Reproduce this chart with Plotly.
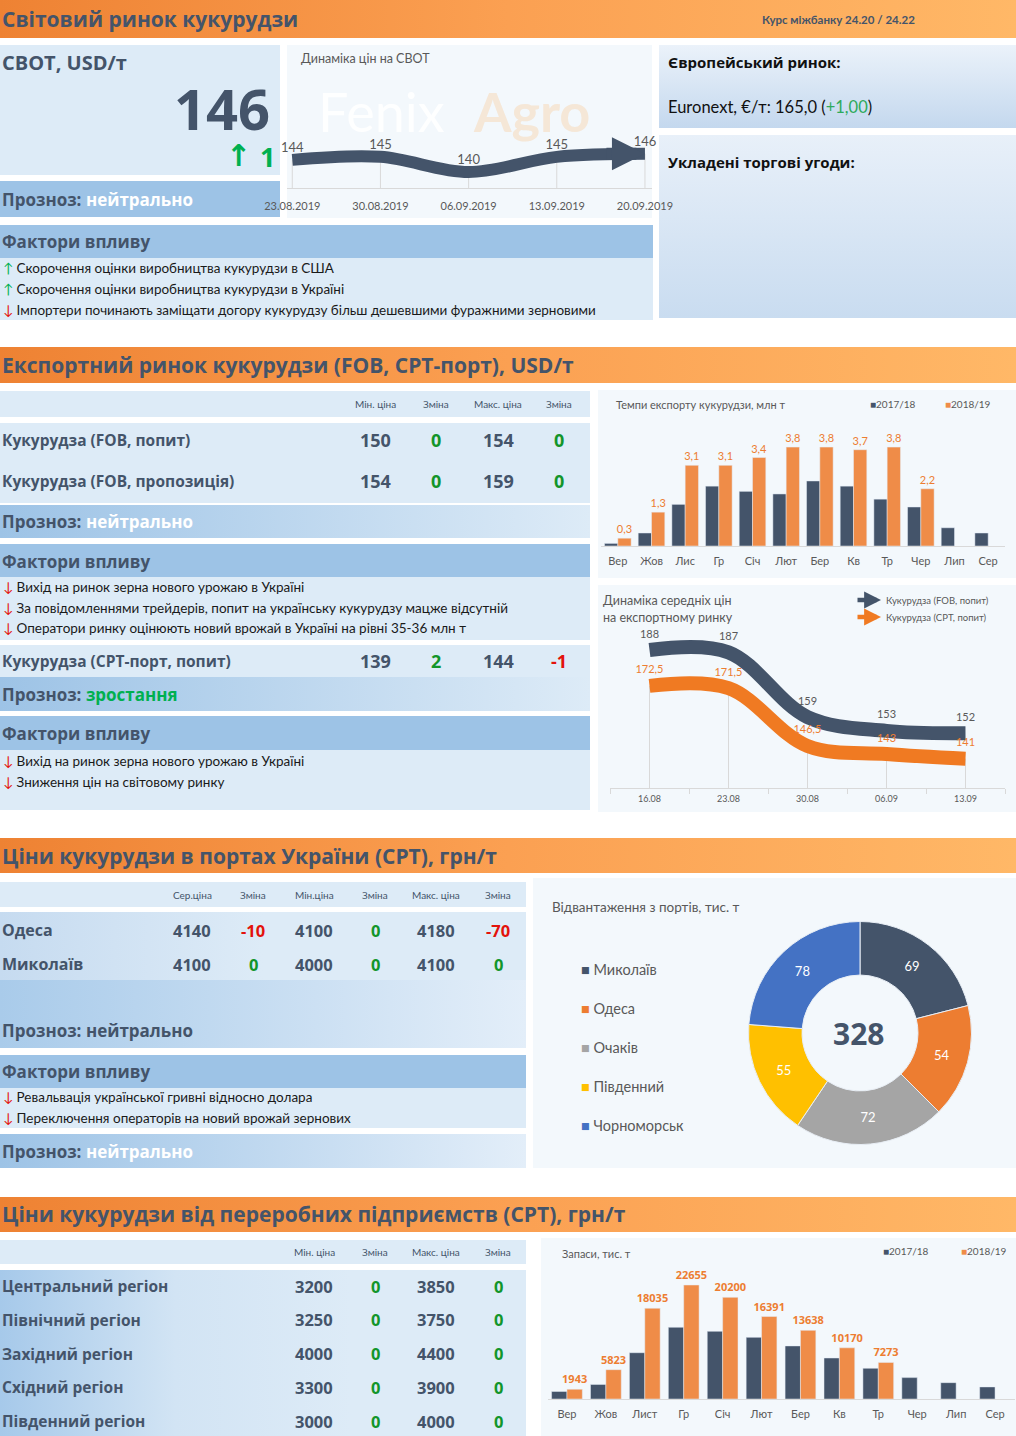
import plotly.graph_objects as go

W, H = 1016, 1436

# ======================= DATA =======================
fx_text = "Курс міжбанку 24.20 / 24.22"
cbot_price = 146
cbot_change = 1
cbot_dates = ["23.08.2019", "30.08.2019", "06.09.2019", "13.09.2019", "20.09.2019"]
cbot_prices = [144, 145, 140, 145, 146]
euronext_price = "165,0"
euronext_change = "+1,00"
world_forecast = "нейтрально"
world_factors = [
    ("up", "Скорочення оцінки виробництва кукурудзи в США"),
    ("up", "Скорочення оцінки виробництва кукурудзи в Україні"),
    ("down", "Імпортери починають заміщати догору кукурудзу більш дешевшими фуражними зерновими"),
]

export_cols = ["Мін. ціна", "Зміна", "Макс. ціна", "Зміна"]
export_rows = ["Кукурудза (FOB, попит)", "Кукурудза (FOB, пропозиція)"]
export_min = [150, 154]
export_min_chg = [0, 0]
export_max = [154, 159]
export_max_chg = [0, 0]
export_forecast = "нейтрально"
export_factors = [
    ("down", "Вихід на ринок зерна нового урожаю в Україні"),
    ("down", "За повідомленнями трейдерів, попит на українську кукурудзу мацже відсутній"),
    ("down", "Оператори ринку оцінюють новий врожай в Україні на рівні 35-36 млн т"),
]
cpt_row = "Кукурудза (СРТ-порт, попит)"
cpt_values = [139, 2, 144, -1]
cpt_forecast = "зростання"
cpt_factors = [
    ("down", "Вихід на ринок зерна нового урожаю в Україні"),
    ("down", "Зниження цін на світовому ринку"),
]

exp_months = ["Вер", "Жов", "Лис", "Гр", "Січ", "Лют", "Бер", "Кв", "Тр", "Чер", "Лип", "Сер"]
exp_1718 = [0.1, 0.5, 1.6, 2.3, 2.1, 2.0, 2.5, 2.3, 1.8, 1.5, 0.7, 0.5]
exp_1819 = [0.3, 1.3, 3.1, 3.1, 3.4, 3.8, 3.8, 3.7, 3.8, 2.2, None, None]

avg_dates = ["16.08", "23.08", "30.08", "06.09", "13.09"]
fob_demand = [188, 187, 159, 153, 152]
cpt_demand = [172.5, 171.5, 146.5, 143, 141]
avg_series = ["Кукурудза (FOB, попит)", "Кукурудза (СРТ, попит)"]

port_cols = ["Сер.ціна", "Зміна", "Мін.ціна", "Зміна", "Макс. ціна", "Зміна"]
port_names = ["Одеса", "Миколаїв"]
port_avg = [4140, 4100]
port_avg_chg = [-10, 0]
port_min = [4100, 4000]
port_min_chg = [0, 0]
port_max = [4180, 4100]
port_max_chg = [-70, 0]
port_forecast_1 = "нейтрально"
port_factors = [
    ("down", "Ревальвація української гривні відносно долара"),
    ("down", "Переключення операторів на новий врожай зернових"),
]
port_forecast_2 = "нейтрально"

ship_ports = ["Миколаїв", "Одеса", "Очаків", "Південний", "Чорноморськ"]
ship_values = [69, 54, 72, 55, 78]

proc_cols = ["Мін. ціна", "Зміна", "Макс. ціна", "Зміна"]
regions = ["Центральний регіон", "Північний регіон", "Західний регіон", "Східний регіон", "Південний регіон"]
reg_min = [3200, 3250, 4000, 3300, 3000]
reg_min_chg = [0, 0, 0, 0, 0]
reg_max = [3850, 3750, 4400, 3900, 4000]
reg_max_chg = [0, 0, 0, 0, 0]

stk_months = ["Вер", "Жов", "Лист", "Гр", "Січ", "Лют", "Бер", "Кв", "Тр", "Чер", "Лип", "Сер"]
stk_1718 = [1500, 2900, 9200, 14250, 13450, 12250, 10550, 8150, 6100, 4250, 3250, 2400]
stk_1819 = [1943, 5823, 18035, 22655, 20200, 16391, 13638, 10170, 7273, None, None, None]

# ======================= STYLE =======================
HEAD = "Open Sans"
BODY = "Lato"
DARK = "#44546A"
GRAY = "#595959"
LIGHT = "#DDEBF7"
MID = "#9DC3E6"
CHART_BG = "#F3F8FC"
ORANGE = "#ED7D31"
BAR_OR = "#EF8C48"
GREEN = "#00B050"
VGREEN = "#12952A"
RED = "#E3120B"
ORANGE_BAND = ["#EE8233", "#FBA052", "#FFB867"]

fig = go.Figure()
ann = []


def box(x0, y0, x1, y1, color=None, grad=None, vertical=False):
    tr = go.Scatter(x=[x0, x1, x1, x0, x0], y=[y0, y0, y1, y1, y0], mode="lines",
                    line=dict(width=0), fill="toself", hoverinfo="skip",
                    showlegend=False, xaxis="x", yaxis="y")
    if grad:
        n = len(grad) - 1
        cs = [[i / n, c] for i, c in enumerate(grad)]
        if vertical:
            tr.update(fillgradient=dict(type="vertical", colorscale=cs, start=y0, stop=y1))
        else:
            tr.update(fillgradient=dict(type="horizontal", colorscale=cs, start=x0, stop=x1))
    else:
        tr.update(fillcolor=color)
    fig.add_trace(tr)


def text(x, y, s, size, color=DARK, family=HEAD, anchor="left", bold=False):
    if bold:
        s = f"<b>{s}</b>"
    ann.append(dict(x=x, y=y, xref="x", yref="y", text=s, showarrow=False,
                    xanchor=anchor, yanchor="middle",
                    font=dict(size=size, color=color, family=family)))


def chg_col(v):
    return RED if v < 0 else VGREEN


def factor_lines(y0, items, step):
    for i, (kind, s) in enumerate(items):
        arr, c = ("↑", GREEN) if kind == "up" else ("↓", RED)
        text(0.5, y0 + i * step, f"<span style='color:{c}'>{arr}</span> {s}", 13.5, "#1a1a1a", BODY)


def forecast(y, word, word_color):
    text(0, y, f"Прозноз: <span style='color:{word_color}'>{word}</span>", 17, DARK, HEAD, bold=True)


# ======================= BACKGROUND BLOCKS =======================
# Section 1
box(0, 0, W, 38, grad=ORANGE_BAND)
box(0, 45, 280, 175, LIGHT)
box(0, 181, 280, 217, MID)
box(287, 45, 652, 218, CHART_BG)
box(659, 45, W, 128, grad=["#EBF2FA", "#C4D8EE"], vertical=True)
box(659, 135, W, 318, grad=["#E8F0F9", "#C9DCF0"], vertical=True)
box(0, 225, 653, 258, MID)
box(0, 258, 653, 320, LIGHT)

# Section 2
box(0, 347, W, 383, grad=ORANGE_BAND)
box(0, 391, 590, 417, LIGHT)
box(0, 423, 590, 503, LIGHT)
box(0, 505, 590, 538, grad=[MID, LIGHT])
box(0, 544, 590, 577, MID)
box(0, 577, 590, 640, LIGHT)
box(0, 645, 590, 677, LIGHT)
box(0, 677, 590, 711, grad=[MID, LIGHT])
box(0, 716, 590, 750, MID)
box(0, 750, 590, 810, LIGHT)
box(598, 390, W, 578, CHART_BG)
box(598, 585, W, 812, CHART_BG)

# Section 3
box(0, 838, W, 873, grad=ORANGE_BAND)
box(0, 882, 526, 907, LIGHT)
box(0, 912, 526, 980, grad=["#C6DBF0", LIGHT, LIGHT])
box(0, 980, 526, 1048, grad=["#A9CBEA", "#E3EEF9"])
box(0, 1055, 526, 1088, MID)
box(0, 1088, 526, 1128, LIGHT)
box(0, 1134, 526, 1168, grad=[MID, "#E3EEF9"])
box(533, 878, W, 1168, CHART_BG)

# Section 4
box(0, 1197, W, 1232, grad=ORANGE_BAND)
box(0, 1240, 526, 1264, LIGHT)
box(0, 1270, 526, H, grad=["#A6C9EA", "#D2E4F4", LIGHT, LIGHT])
box(541, 1238, W, H, CHART_BG)

# watermark (drawn as page-level text trace so chart labels stay on top)
fig.add_trace(go.Scatter(x=[318, 474], y=[118, 118], mode="text", text=["Fenix", "<b>Agro</b>"],
                         textposition="middle right", xaxis="x", yaxis="y", hoverinfo="skip",
                         textfont=dict(size=54, family=BODY,
                                       color=["rgba(255,255,255,0.9)", "rgba(250,185,120,0.28)"])))

# ======================= TEXT: SECTION 1 =======================
text(0, 19, "Світовий ринок кукурудзи", 21, DARK, HEAD, bold=True)
text(838, 19, fx_text, 11.5, DARK, BODY, anchor="center", bold=True)
text(0, 62, "СВОТ, USD/т", 20, DARK, HEAD, bold=True)
text(272, 108, str(cbot_price), 56, DARK, HEAD, anchor="right", bold=True)
arrow_c = "↑" if cbot_change >= 0 else "↓"
text(238, 155, arrow_c, 30, GREEN, "DejaVu Sans", anchor="center", bold=True)
text(267, 156, str(cbot_change), 27, GREEN, HEAD, anchor="center", bold=True)
forecast(199, world_forecast, "white")
text(299, 58, "Динаміка цін на СВОТ", 12.5, GRAY, BODY)
text(666, 62, "Європейський ринок:", 15, "#111111", HEAD, bold=True)
text(666, 107, f"Euronext, €/т: {euronext_price} (<span style='color:#2EAA5C'>{euronext_change}</span>)",
     16.5, "#111111", BODY)
text(666, 162, "Укладені торгові угоди:", 15, "#111111", HEAD, bold=True)
text(0, 241, "Фактори впливу", 17, DARK, HEAD, bold=True)
factor_lines(268, world_factors, 21)

# ======================= TEXT: SECTION 2 =======================
text(0, 365, "Експортний ринок кукурудзи (FOB, CPT-порт), USD/т", 21, DARK, HEAD, bold=True)
exp_cx = [375, 436, 498, 559]
for cx, c in zip(exp_cx, export_cols):
    text(cx, 404, c, 10, DARK, BODY, anchor="center")
for i, name in enumerate(export_rows):
    y = 440 + i * 41
    text(0, y, name, 15.5, DARK, HEAD, bold=True)
    vals = [export_min[i], export_min_chg[i], export_max[i], export_max_chg[i]]
    cols = [DARK, chg_col(export_min_chg[i]), DARK, chg_col(export_max_chg[i])]
    for cx, v, c in zip(exp_cx, vals, cols):
        text(cx, y, str(v), 18, c, HEAD, anchor="center", bold=True)
forecast(521, export_forecast, "white")
text(0, 561, "Фактори впливу", 17, DARK, HEAD, bold=True)
factor_lines(587, export_factors, 20.5)
text(0, 661, cpt_row, 15.5, DARK, HEAD, bold=True)
cpt_cols = [DARK, chg_col(cpt_values[1]), DARK, chg_col(cpt_values[3])]
for cx, v, c in zip(exp_cx, cpt_values, cpt_cols):
    text(cx, 661, str(v), 18, c, HEAD, anchor="center", bold=True)
forecast(694, cpt_forecast, GREEN)
text(0, 733, "Фактори впливу", 17, DARK, HEAD, bold=True)
factor_lines(761, cpt_factors, 20.5)

# chart titles / legends (section 2)
text(614, 404, "Темпи експорту кукурудзи, млн т", 11, GRAY, BODY)
text(868, 404, f"<span style='color:{DARK}'>■</span>2017/18", 10, GRAY, BODY)
text(943, 404, f"<span style='color:{BAR_OR}'>■</span>2018/19", 10, GRAY, BODY)
text(601, 600, "Динаміка середніх цін", 12.5, GRAY, BODY)
text(601, 617, "на експортному ринку", 12.5, GRAY, BODY)
for k, (nm, col) in enumerate(zip(avg_series, [DARK, "#F07A22"])):
    yy = 600 + k * 17
    ann.append(dict(x=881, y=yy, xref="x", yref="y", ax=856, ay=yy, axref="x", ayref="y",
                    text="", showarrow=True, arrowhead=2, arrowsize=0.75, arrowwidth=4.5,
                    arrowcolor=col, standoff=0))
    text(884, yy, nm, 9.5, GRAY, BODY)

# ======================= TEXT: SECTION 3 =======================
text(0, 856, "Ціни кукурудзи в портах України (СРТ), грн/т", 21, DARK, HEAD, bold=True)
port_cx = [192, 253, 314, 375, 436, 498]
for cx, c in zip(port_cx, port_cols):
    text(cx, 895, c, 10, DARK, BODY, anchor="center")
for i, name in enumerate(port_names):
    y = 930 + i * 34
    text(0, y, name, 16, DARK, HEAD, bold=True)
    vals = [port_avg[i], port_avg_chg[i], port_min[i], port_min_chg[i], port_max[i], port_max_chg[i]]
    for j, (cx, v) in enumerate(zip(port_cx, vals)):
        c = DARK if j % 2 == 0 else chg_col(v)
        text(cx, y, str(v), 16.5, c, HEAD, anchor="center", bold=True)
forecast(1030, port_forecast_1, DARK)
text(0, 1071, "Фактори впливу", 17, DARK, HEAD, bold=True)
factor_lines(1097, port_factors, 21)
forecast(1151, port_forecast_2, "white")

text(550, 907, "Відвантаження з портів, тис. т", 13.5, GRAY, BODY)
pie_colors = ["#44546A", "#ED7D31", "#A5A5A5", "#FFC000", "#4472C4"]
for k, (p, c) in enumerate(zip(ship_ports, pie_colors)):
    text(579, 969 + k * 39, f"<span style='color:{c}'>■</span> {p}", 14.5, GRAY, BODY)
text(858, 1033, str(sum(ship_values)), 30, DARK, HEAD, anchor="center", bold=True)

# ======================= TEXT: SECTION 4 =======================
text(0, 1214, "Ціни кукурудзи від переробних підприємств (СРТ), грн/т", 21, DARK, HEAD, bold=True)
proc_cx = [314, 375, 436, 498]
for cx, c in zip(proc_cx, proc_cols):
    text(cx, 1252, c, 10, DARK, BODY, anchor="center")
for i, name in enumerate(regions):
    y = 1286 + i * 33.8
    text(0, y, name, 15.5, DARK, HEAD, bold=True)
    vals = [reg_min[i], reg_min_chg[i], reg_max[i], reg_max_chg[i]]
    for j, (cx, v) in enumerate(zip(proc_cx, vals)):
        c = DARK if j % 2 == 0 else chg_col(v)
        text(cx, y, str(v), 16.5, c, HEAD, anchor="center", bold=True)
text(560, 1253, "Запаси, тис. т", 11, GRAY, BODY)
text(881, 1251, f"<span style='color:{DARK}'>■</span>2017/18", 10, GRAY, BODY)
text(959, 1251, f"<span style='color:{BAR_OR}'>■</span>2018/19", 10, GRAY, BODY)

# ======================= CHARTS =======================
def dx(a, b):
    return [a / W, b / W]


def dy(top, bottom):
    return [1 - bottom / H, 1 - top / H]


# --- CBOT line (x2/y2)
cbot_ymin = 134.7
fig.add_trace(go.Scatter(x=cbot_dates, y=cbot_prices, xaxis="x2", yaxis="y2", mode="markers",
                         marker=dict(size=1, color="rgba(0,0,0,0)"), hoverinfo="skip",
                         error_y=dict(type="data", symmetric=False, array=[0] * len(cbot_prices),
                                      arrayminus=[v - cbot_ymin for v in cbot_prices],
                                      color="#D9D9D9", thickness=1, width=0)))
fig.add_trace(go.Scatter(x=cbot_dates, y=cbot_prices, xaxis="x2", yaxis="y2", mode="lines",
                         line=dict(color=DARK, width=12, shape="spline", smoothing=1.0, backoff=26),
                         hoverinfo="skip"))
fig.add_trace(go.Scatter(x=cbot_dates, y=cbot_prices, xaxis="x2", yaxis="y2", mode="markers+text",
                         marker=dict(size=6, color="rgba(0,0,0,0)"), text=[str(v) for v in cbot_prices],
                         textposition="top center", textfont=dict(size=13, color=GRAY, family=BODY),
                         cliponaxis=False, hoverinfo="skip"))
ann.append(dict(x=cbot_dates[-1], y=cbot_prices[-1], xref="x2", yref="y2", ax=-40, ay=0,
                text="", showarrow=True, arrowhead=2, arrowsize=0.55, arrowwidth=12,
                arrowcolor=DARK, standoff=0))

# --- Export bars (x3/y3)
fig.add_trace(go.Bar(x=exp_months, y=exp_1718, xaxis="x3", yaxis="y3", marker_color=DARK,
                     name="2017/18", hoverinfo="skip"))
fig.add_trace(go.Bar(x=exp_months, y=exp_1819, xaxis="x3", yaxis="y3", marker_color=BAR_OR,
                     name="2018/19", hoverinfo="skip",
                     text=[("" if v is None else f"{v:.1f}".replace(".", ",")) for v in exp_1819],
                     textposition="outside", constraintext="none", cliponaxis=False,
                     textfont=dict(size=11, color=ORANGE, family=BODY)))

# --- Average prices (x4/y4)
avg_ymin = 128.3
fig.add_trace(go.Scatter(x=avg_dates, y=cpt_demand, xaxis="x4", yaxis="y4", mode="markers",
                         marker=dict(size=1, color="rgba(0,0,0,0)"), hoverinfo="skip",
                         error_y=dict(type="data", symmetric=False, array=[0] * len(cpt_demand),
                                      arrayminus=[v - avg_ymin for v in cpt_demand],
                                      color="#D9D9D9", thickness=1, width=0)))
for series, col, tcol in [(fob_demand, DARK, GRAY), (cpt_demand, "#F07A22", ORANGE)]:
    fig.add_trace(go.Scatter(x=avg_dates, y=series, xaxis="x4", yaxis="y4", mode="lines",
                             line=dict(color=col, width=14, shape="spline", smoothing=1.0, backoff=20),
                             hoverinfo="skip"))
    fig.add_trace(go.Scatter(x=avg_dates, y=series, xaxis="x4", yaxis="y4", mode="markers+text",
                             marker=dict(size=14, color="rgba(0,0,0,0)"),
                             text=[(f"{v:g}").replace(".", ",") for v in series],
                             textposition="top center", textfont=dict(size=11, color=tcol, family=BODY),
                             cliponaxis=False, hoverinfo="skip"))
    ann.append(dict(x=avg_dates[-1], y=series[-1], xref="x4", yref="y4", ax=-30, ay=0,
                    text="", showarrow=True, arrowhead=2, arrowsize=0.36, arrowwidth=14,
                    arrowcolor=col, standoff=0))

# --- Donut
fig.add_trace(go.Pie(values=ship_values, labels=ship_ports, hole=0.52, sort=False,
                     direction="clockwise", rotation=0, automargin=False,
                     marker=dict(colors=pie_colors, line=dict(color="#E8EEF5", width=1)),
                     textinfo="value", textposition="inside", insidetextorientation="horizontal",
                     textfont=dict(size=13, color="white", family=BODY),
                     domain=dict(x=dx(748.5, 971.5), y=dy(921.5, 1144.5)),
                     showlegend=False, hoverinfo="skip"))

# --- Stocks bars (x5/y5)
fig.add_trace(go.Bar(x=stk_months, y=stk_1718, xaxis="x5", yaxis="y5", marker_color=DARK,
                     name="2017/18", hoverinfo="skip"))
fig.add_trace(go.Bar(x=stk_months, y=stk_1819, xaxis="x5", yaxis="y5", marker_color=BAR_OR,
                     name="2018/19", hoverinfo="skip",
                     text=[("" if v is None else str(v)) for v in stk_1819],
                     textposition="outside", constraintext="none", cliponaxis=False,
                     textfont=dict(size=11, color=ORANGE, family=HEAD, weight="bold")))

hidden = dict(visible=False, fixedrange=True, automargin=False)
cat_axis = dict(type="category", showline=True, linecolor="#D9D9D9", linewidth=1, ticks="",
                showgrid=False, zeroline=False, fixedrange=True, automargin=False,
                tickfont=dict(size=11, color=GRAY, family=BODY))

fig.update_layout(
    width=W, height=H, margin=dict(l=0, r=0, t=0, b=0, pad=0, autoexpand=False),
    paper_bgcolor="white", plot_bgcolor="rgba(0,0,0,0)", showlegend=False,
    barmode="group", bargap=0.21, bargroupgap=0,
    xaxis=dict(domain=[0, 1], range=[0, W], **hidden),
    yaxis=dict(domain=[0, 1], range=[H, 0], **hidden),
    xaxis2=dict(domain=dx(287, 652), anchor="y2", range=[-0.06, 4.08], ticklabelstandoff=8, **cat_axis),
    yaxis2=dict(domain=dy(45, 188), anchor="x2", range=[cbot_ymin, 182], **hidden),
    xaxis3=dict(domain=dx(601, 1005), anchor="y3", range=[-0.5, 11.5], ticklabelstandoff=5, **cat_axis),
    yaxis3=dict(domain=dy(425, 546), anchor="x3", range=[0, 4.65], **hidden),
    xaxis4=dict(domain=dx(610, 1005), anchor="y4", range=[-0.5, 4.5], ticklabelstandoff=2,
                **{**cat_axis, "ticks": "outside", "tickson": "boundaries", "ticklen": 5,
                   "tickcolor": "#D9D9D9", "tickfont": dict(size=9, color=GRAY, family=BODY)}),
    yaxis4=dict(domain=dy(598, 788), anchor="x4", range=[avg_ymin, 210.5], **hidden),
    xaxis5=dict(domain=dx(547.5, 1014.5), anchor="y5", range=[-0.5, 11.5], ticklabelstandoff=5, **cat_axis),
    yaxis5=dict(domain=dy(1270, 1399), anchor="x5", range=[0, 25636], **hidden),
    annotations=ann,
)

fig.write_html("out.html", config={"displayModeBar": False},
               post_script="document.body.style.margin='0px';")
